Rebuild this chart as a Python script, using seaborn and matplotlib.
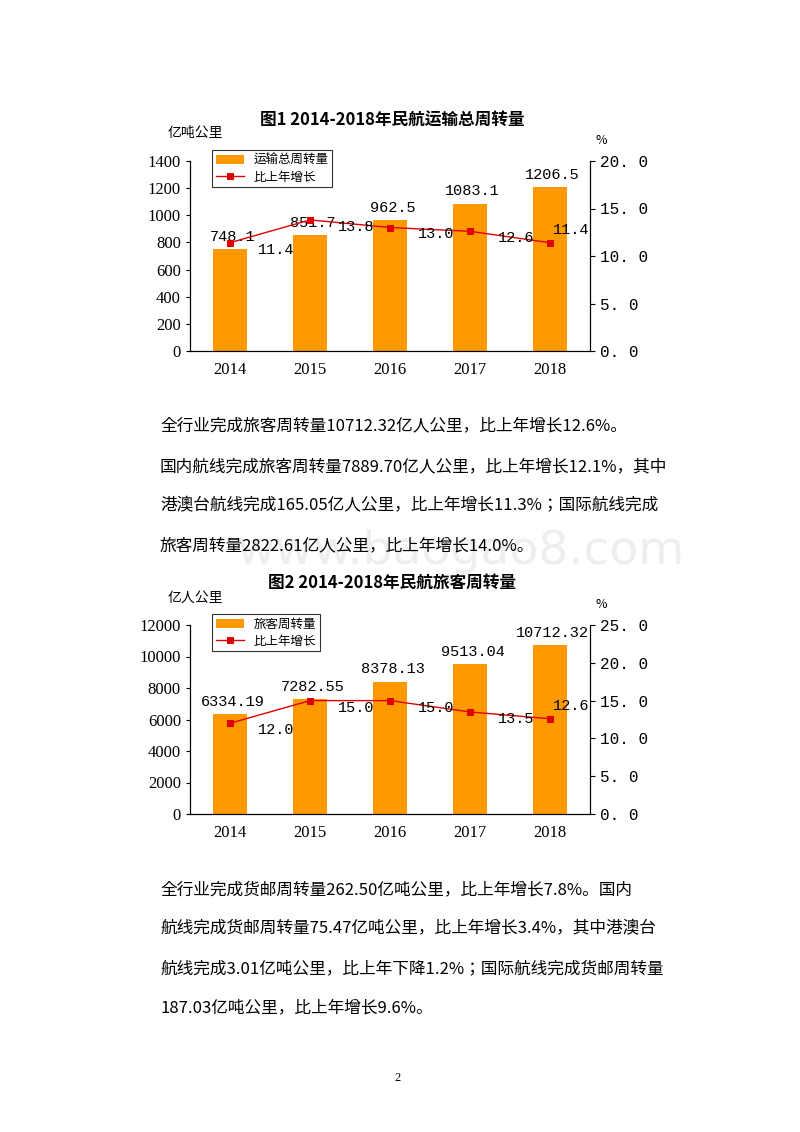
import numpy as np
import pandas as pd
import matplotlib
matplotlib.use("Agg")
import matplotlib.pyplot as plt
from matplotlib import font_manager
import seaborn as sns

years = ["2014", "2015", "2016", "2017", "2018"]
total_turnover = [748.1, 851.7, 962.5, 1083.1, 1206.5]
total_growth = [11.4, 13.8, 13.0, 12.6, 11.4]
pass_turnover = [6334.19, 7282.55, 8378.13, 9513.04, 10712.32]
pass_growth = [12.0, 15.0, 15.0, 13.5, 12.6]
bar_labels2 = ["6334.19", "7282.55", "8378.13", "9513.04", "10712.32"]

names = {f.name for f in font_manager.fontManager.ttflist}
cjk_pick = [n for n in ["Noto Sans CJK SC", "Noto Sans CJK JP", "Noto Sans CJK TC", "Noto Sans CJK KR"] if n in names]
CJK = cjk_pick + ["DejaVu Sans"]
SERIF = ["Liberation Serif"]
MONO = ["Liberation Mono"] + cjk_pick
ORANGE = "#FF9900"
RED = "#E00000"

W, H = 800, 1132
fig = plt.figure(figsize=(8, 11.32), dpi=100)


def px(x, y):
    return x / W, 1 - y / H


def chart(top, bottom, vals, growth, ymax, ystep, rmax, vlabels, unit, bar_name, title, title_y, unit_y, pct_y):
    ax = fig.add_axes([190 / W, 1 - bottom / H, 400 / W, (bottom - top) / H])
    df = pd.DataFrame({"year": years, "v": vals})
    sns.barplot(data=df, x="year", y="v", color=ORANGE, width=0.42, ax=ax, saturation=1, label=bar_name)
    ax.set_xlim(-0.5, 4.5)
    ax.set_ylim(0, ymax)
    ax.set_yticks(np.arange(0, ymax + 1, ystep))
    ax.set_xlabel("")
    ax.set_ylabel("")
    ax.tick_params(labelsize=12, length=3)
    for lab in ax.get_xticklabels() + ax.get_yticklabels():
        lab.set_fontfamily(SERIF)
    ax.tick_params(axis="x", length=0, pad=8)
    for i, v in enumerate(vals):
        ax.annotate(vlabels[i], (i, v), xytext=(2, 4), textcoords="offset points",
                    ha="center", va="bottom", fontsize=11, fontfamily=MONO)
    ax2 = ax.twinx()
    gdf = pd.DataFrame({"x": np.arange(5), "g": growth})
    sns.lineplot(data=gdf, x="x", y="g", color=RED, marker="s", markersize=5,
                 markeredgecolor=RED, linewidth=1, ax=ax2, label="比上年增长")
    ax2.set_ylim(0, rmax)
    ticks = np.arange(0, rmax + 0.1, 5)
    ax2.set_yticks(ticks)
    ax2.set_yticklabels([f"{t:.1f}".replace(".", ". ") for t in ticks], fontfamily=MONO, fontsize=11.5)
    ax2.set_ylabel("")
    ax2.set_xlabel("")
    for i, g in enumerate(growth):
        off = (20, -5) if i < 4 else (15, 9)
        ax2.annotate(f"{g:.1f}", (i, g), xytext=off, textcoords="offset points",
                     ha="left" if i < 4 else "center", va="center", fontsize=11, fontfamily=MONO)
    ax.spines["top"].set_visible(False)
    ax2.spines["top"].set_visible(False)
    h1, l1 = ax.get_legend_handles_labels()
    h2, l2 = ax2.get_legend_handles_labels()
    if ax2.get_legend():
        ax2.get_legend().remove()
    leg = ax.legend(h1 + h2, l1 + l2, loc="upper left", bbox_to_anchor=(0.04, 1.09),
                    prop={"family": CJK, "size": 9}, frameon=True, fancybox=False,
                    edgecolor="black", handlelength=2.2, borderpad=0.3, labelspacing=0.3)
    leg.get_frame().set_linewidth(0.8)
    fig.text(*px(392, title_y), title, ha="center", va="center", fontsize=12,
             fontweight="bold", fontfamily=CJK)
    fig.text(*px(195, unit_y), unit, ha="center", va="center", fontsize=10, fontfamily=CJK)
    fig.text(*px(601, pct_y), "%", ha="center", va="center", fontsize=9, fontfamily=CJK)


chart(161, 351, total_turnover, total_growth, 1400, 200, 20,
      [f"{v:.1f}" for v in total_turnover],
      "亿吨公里", "运输总周转量", "图1 2014-2018年民航运输总周转量", 120, 133, 140)
chart(625, 814, pass_turnover, pass_growth, 12000, 2000, 25, bar_labels2,
      "亿人公里", "旅客周转量", "图2 2014-2018年民航旅客周转量", 583, 598, 604)

para1 = ["全行业完成旅客周转量10712.32亿人公里，比上年增长12.6%。",
         "国内航线完成旅客周转量7889.70亿人公里，比上年增长12.1%，其中",
         "港澳台航线完成165.05亿人公里，比上年增长11.3%；国际航线完成",
         "旅客周转量2822.61亿人公里，比上年增长14.0%。"]
para2 = ["全行业完成货邮周转量262.50亿吨公里，比上年增长7.8%。国内",
         "航线完成货邮周转量75.47亿吨公里，比上年增长3.4%，其中港澳台",
         "航线完成3.01亿吨公里，比上年下降1.2%；国际航线完成货邮周转量",
         "187.03亿吨公里，比上年增长9.6%。"]
for t, y in zip(para1, [426, 467, 506, 546]):
    fig.text(*px(160, y), t, ha="left", va="center", fontsize=12, fontfamily=CJK)
for t, y in zip(para2, [890, 929, 969, 1008]):
    fig.text(*px(160, y), t, ha="left", va="center", fontsize=12, fontfamily=CJK)

fig.text(*px(460, 552), "www.baogao8.com", ha="center", va="center", fontsize=34,
         color="#eeeeee", fontfamily="DejaVu Sans", zorder=-1)
fig.text(*px(398, 1078), "2", ha="center", va="center", fontsize=9, fontfamily=SERIF)

fig.savefig("out.png", dpi=100)
